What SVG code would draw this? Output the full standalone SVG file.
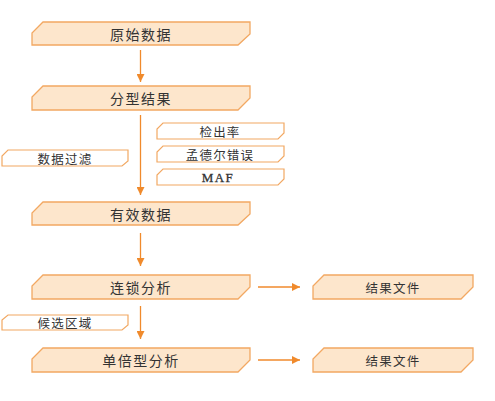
<svg xmlns="http://www.w3.org/2000/svg" width="495" height="401" viewBox="0 0 495 401">
<defs>
<style>
.big{fill:#fde6cc;stroke:#f2a862;stroke-width:1.3}
.small{fill:#ffffff;stroke:#f2a862;stroke-width:1.2}
.t{font-family:"Noto Sans CJK SC","Liberation Sans",sans-serif;fill:#333;text-anchor:middle;dominant-baseline:central}
.tb{font-size:14px;letter-spacing:1.5px}
.ts{font-size:12.5px;letter-spacing:1.2px}
.serif{font-family:"Liberation Serif","Noto Sans CJK SC",serif;font-weight:normal;font-size:13px;letter-spacing:1.5px;stroke:#333;stroke-width:0.3}
.conn{stroke:#f08a2c;stroke-width:1.3;fill:none}
</style>
<marker id="ah" markerWidth="9" markerHeight="8" refX="8" refY="4" orient="auto" markerUnits="userSpaceOnUse">
<path d="M0,0 L8,4 L0,8 Z" fill="#f08a2c"/>
</marker>
</defs>
<rect width="495" height="401" fill="#ffffff"/>
<g id="connectors">
<line class="conn" x1="140.5" y1="50" x2="140.5" y2="82" marker-end="url(#ah)"/>
<line class="conn" x1="140.5" y1="115" x2="140.5" y2="195" marker-end="url(#ah)"/>
<line class="conn" x1="140.5" y1="233" x2="140.5" y2="266" marker-end="url(#ah)"/>
<line class="conn" x1="140.5" y1="306" x2="140.5" y2="339" marker-end="url(#ah)"/>
<line class="conn" x1="258" y1="287" x2="300" y2="287" marker-end="url(#ah)"/>
<line class="conn" x1="258" y1="360" x2="300" y2="360" marker-end="url(#ah)"/>
</g>
<g id="n-raw">
<path class="big" d="M43,22 H250 V34 L238,45 H32 V33 Z"/>
<text class="t tb" x="141" y="33.5">原始数据</text>
</g>
<g id="n-genotype">
<path class="big" d="M43,86 H250 V98 L238,110 H32 V97 Z"/>
<text class="t tb" x="141" y="98">分型结果</text>
</g>
<g id="n-filter">
<path class="small" d="M8,150 H128 V161 L122,166 H2 V156 Z"/>
<text class="t ts" x="65" y="158">数据过滤</text>
</g>
<g id="n-callrate">
<path class="small" d="M163,123 H284 V133 L278,139 H157 V129 Z"/>
<text class="t ts" x="220" y="131">检出率</text>
</g>
<g id="n-mendel">
<path class="small" d="M163,146 H284 V156 L278,162 H157 V152 Z"/>
<text class="t ts" x="220" y="154">孟德尔错误</text>
</g>
<g id="n-maf">
<path class="small" d="M163,169 H284 V179 L278,185 H157 V175 Z"/>
<text class="t serif" x="218" y="177.5">MAF</text>
</g>
<g id="n-valid">
<path class="big" d="M43,202 H250 V214 L238,225 H32 V213 Z"/>
<text class="t tb" x="141" y="213.5">有效数据</text>
</g>
<g id="n-linkage">
<path class="big" d="M43,275 H250 V287 L238,299 H32 V286 Z"/>
<text class="t tb" x="141" y="287">连锁分析</text>
</g>
<g id="n-result1">
<path class="big" d="M324,275 H473 V287 L461,299 H313 V286 Z"/>
<text class="t ts" x="393" y="287">结果文件</text>
</g>
<g id="n-candidate">
<path class="small" d="M8,315 H128 V325 L122,330 H2 V320 Z"/>
<text class="t ts" x="65" y="322.5">候选区域</text>
</g>
<g id="n-haplotype">
<path class="big" d="M43,348 H250 V360 L238,372 H32 V359 Z"/>
<text class="t tb" x="141" y="360">单倍型分析</text>
</g>
<g id="n-result2">
<path class="big" d="M324,348 H473 V360 L461,372 H313 V359 Z"/>
<text class="t ts" x="393" y="360">结果文件</text>
</g>
</svg>
